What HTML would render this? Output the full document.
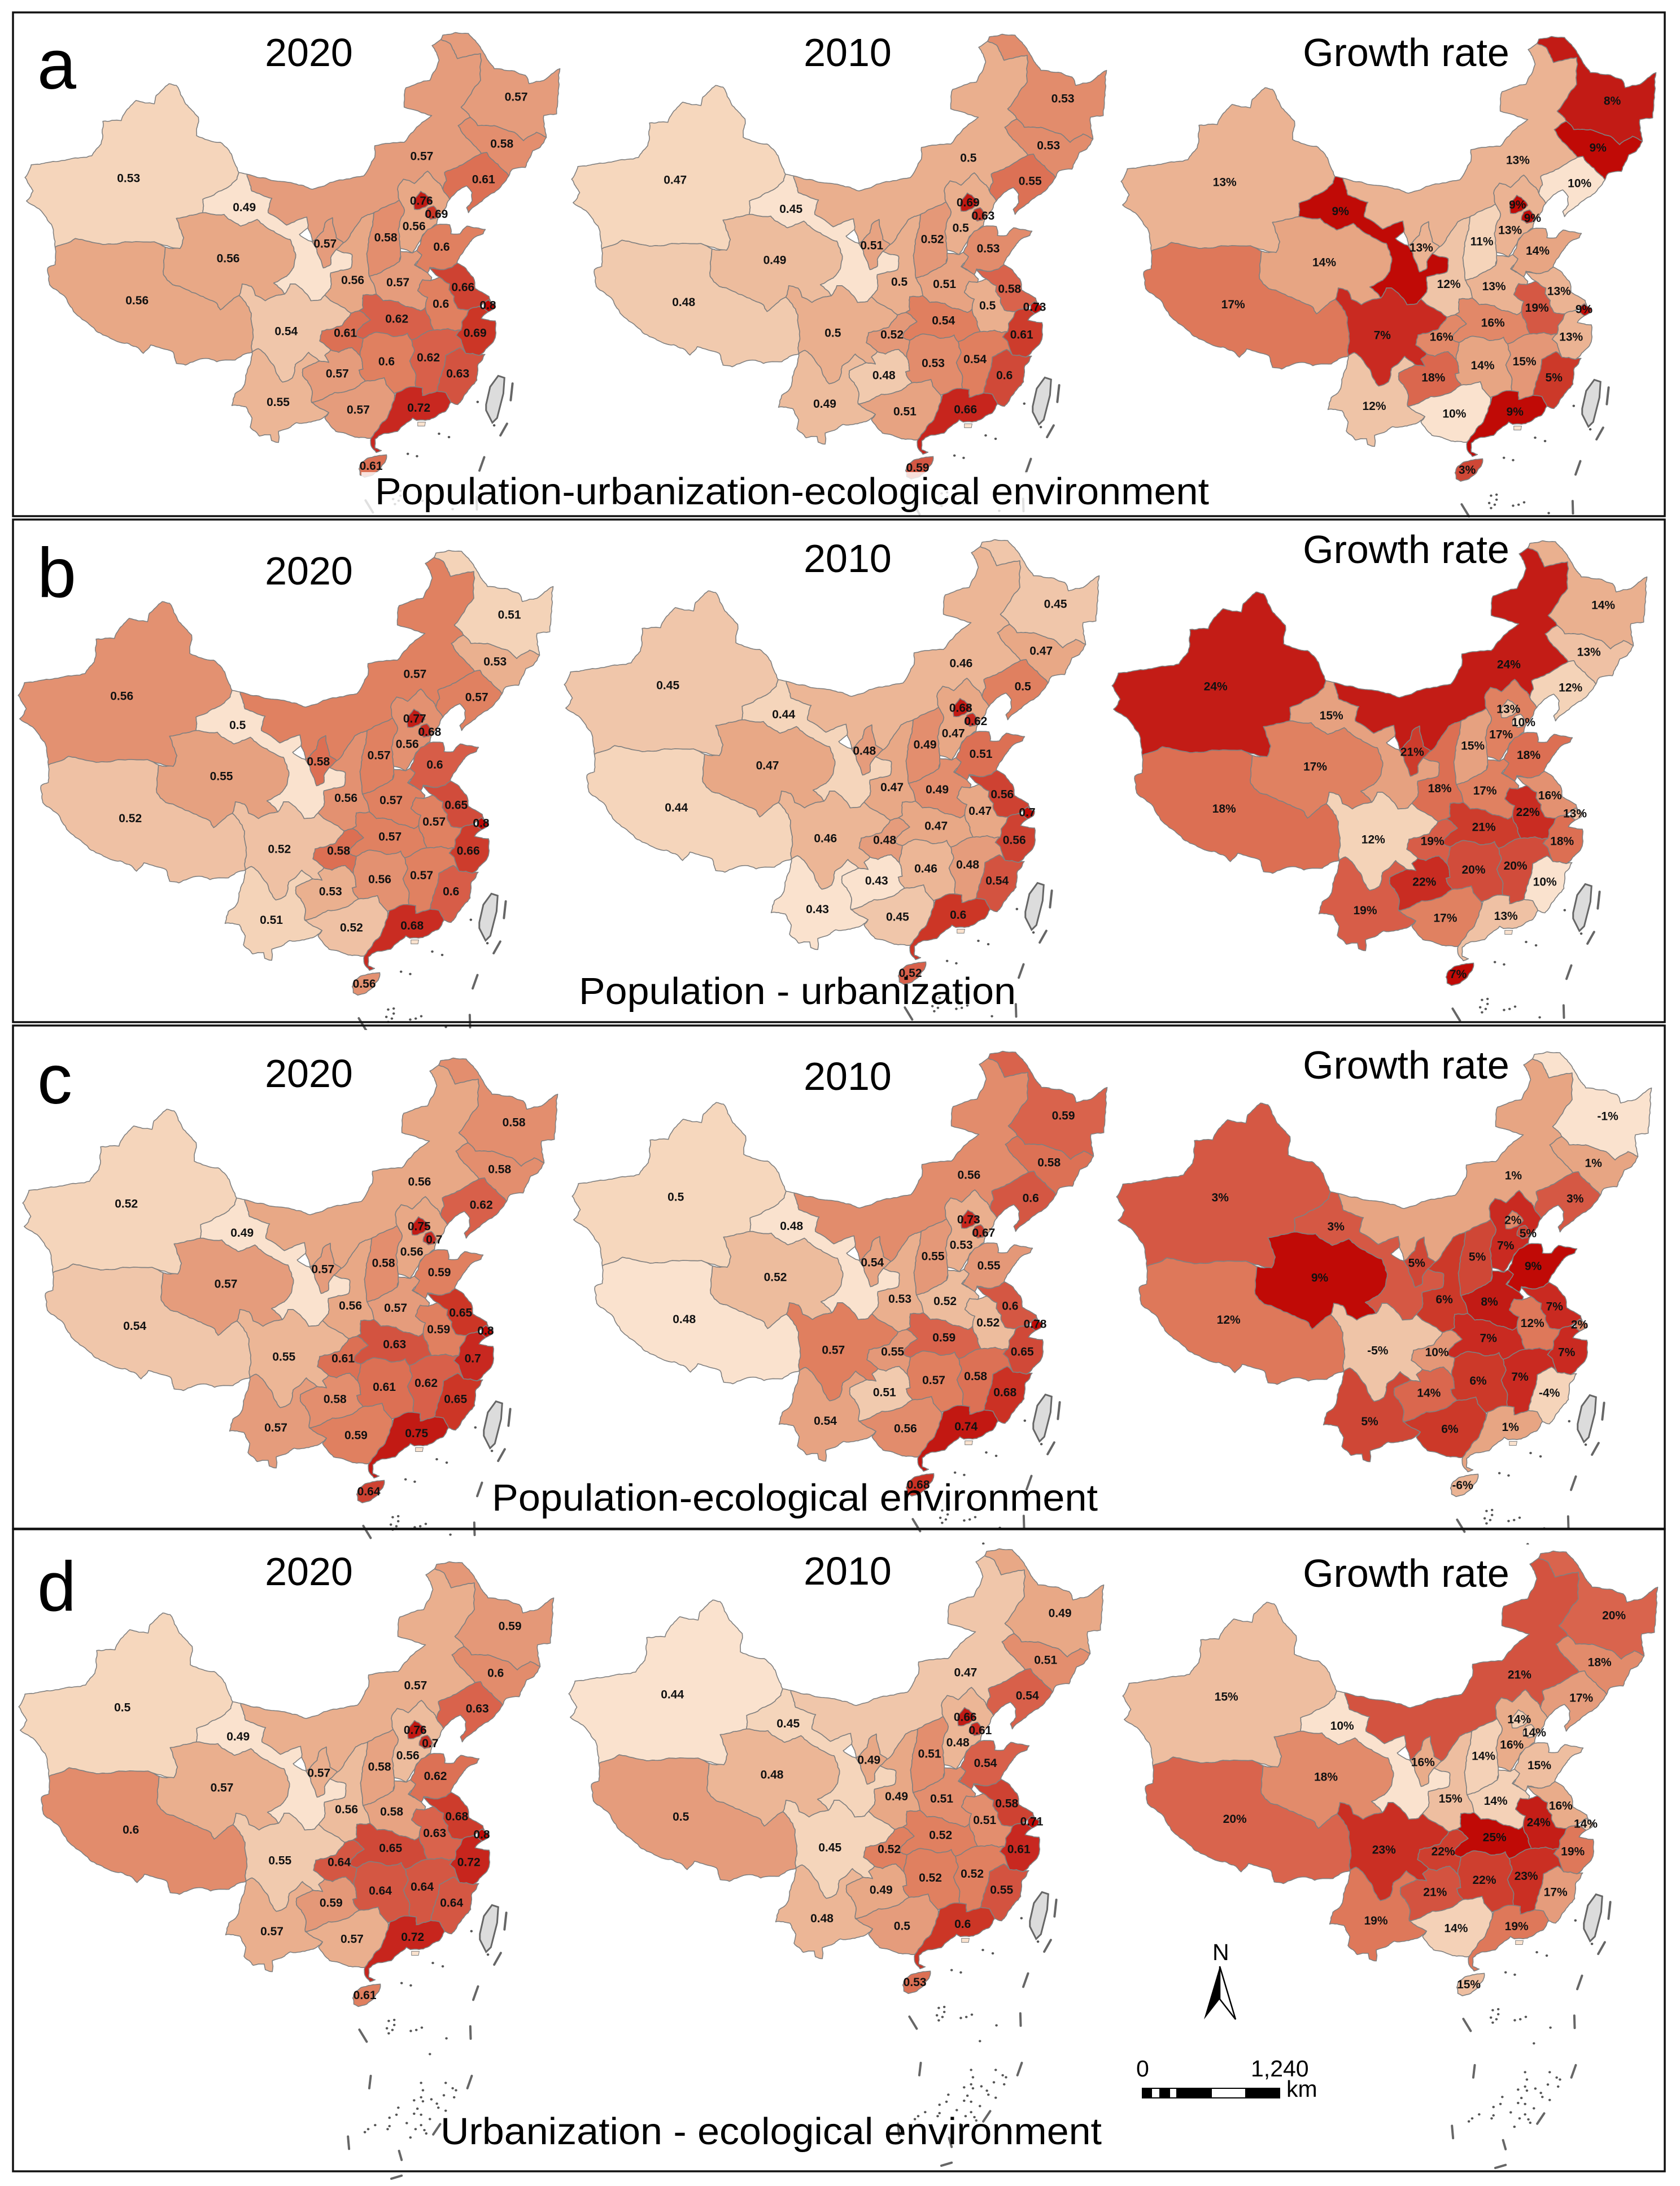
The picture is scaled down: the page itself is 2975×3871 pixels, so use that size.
<!DOCTYPE html>
<html lang="en">
<head>
<meta charset="utf-8">
<title>Coupling coordination maps of China, 2020 and 2010</title>
<style>
html,body{margin:0;padding:0;background:#fff}
svg{display:block}
text{font-family:"Liberation Sans",Arial,sans-serif;fill:#000}
.val{font-weight:700;font-size:21px;fill:#111;text-anchor:middle;dominant-baseline:central}
.head{font-size:70px;text-anchor:middle}
.cap{font-size:67px}
.letter{font-size:124px}
.sc{font-size:41px}
</style>
</head>
<body>
<svg xmlns="http://www.w3.org/2000/svg" id="chart" width="2975" height="3871" viewBox="0 0 2975 3871">
<rect width="2975" height="3871" fill="#fff"/>
<g id="maps"></g>
<rect x="640" y="836" width="1510" height="76" fill="#fff" opacity="0.8"/>
<g fill="none" stroke="#111" stroke-width="3.5">
<rect x="23" y="22" width="2925" height="892"/>
<rect x="23" y="920" width="2925" height="890"/>
<rect x="23" y="1816" width="2925" height="891"/>
<rect x="23" y="2708" width="2925" height="1137"/>
</g>
<text class="letter" x="66" y="157">a</text>
<text class="letter" x="66" y="1057">b</text>
<text class="letter" x="66" y="1954">c</text>
<text class="letter" x="66" y="2852">d</text>
<text class="head" x="547" y="117">2020</text>
<text class="head" x="1501" y="117">2010</text>
<text class="head" x="2490" y="117">Growth rate</text>
<text class="head" x="547" y="1035">2020</text>
<text class="head" x="1501" y="1013">2010</text>
<text class="head" x="2490" y="997">Growth rate</text>
<text class="head" x="547" y="1925">2020</text>
<text class="head" x="1501" y="1930">2010</text>
<text class="head" x="2490" y="1910">Growth rate</text>
<text class="head" x="547" y="2807">2020</text>
<text class="head" x="1501" y="2806">2010</text>
<text class="head" x="2490" y="2810">Growth rate</text>
<text class="cap" x="664" y="893" textLength="1477" lengthAdjust="spacingAndGlyphs">Population-urbanization-ecological environment</text>
<text class="cap" x="1025" y="1778" textLength="774" lengthAdjust="spacingAndGlyphs">Population - urbanization</text>
<text class="cap" x="871" y="2675" textLength="1073" lengthAdjust="spacingAndGlyphs">Population-ecological environment</text>
<text class="cap" x="780" y="3797" textLength="1171" lengthAdjust="spacingAndGlyphs">Urbanization - ecological environment</text>
<g>
<text class="sc" x="2147" y="3471">N</text>
<polygon points="2160,3482 2132,3576 2160,3540" fill="#000"/>
<polygon points="2160,3482 2188,3576 2160,3540" fill="#fff" stroke="#000" stroke-width="2.5"/>
</g>
<g>
<text class="sc" x="2012" y="3677">0</text>
<text class="sc" x="2215" y="3677">1,240</text>
<text class="sc" x="2278" y="3713">km</text>
<rect x="2022" y="3697" width="245" height="19" fill="#000"/>
<rect x="2040" y="3699" width="13" height="15" fill="#fff"/>
<rect x="2072" y="3699" width="11" height="15" fill="#fff"/>
<rect x="2146" y="3699" width="59" height="15" fill="#fff"/>
</g>
</svg>
<script>
// Province order shared by every value array below
const provinceCodes = ["XJ","XZ","QH","GS","NM","NX","SN","SX","HE","BJ","TJ","SD","HA","JS","SH","AH","ZJ","JX","FJ","HB","CQ","SC","YN","GZ","HN","GX","GD","HI","HL","JL","LN"];
// Panel a: population-urbanization-ecological environment
const panelA2020 = [0.53,0.56,0.56,0.49,0.57,0.57,0.56,0.58,0.56,0.76,0.69,0.6,0.57,0.66,0.8,0.6,0.69,0.62,0.63,0.62,0.61,0.54,0.55,0.57,0.6,0.57,0.72,0.61,0.57,0.58,0.61];
const panelA2010 = [0.47,0.48,0.49,0.45,0.5,0.51,0.5,0.52,0.5,0.69,0.63,0.53,0.51,0.58,0.73,0.5,0.61,0.54,0.6,0.54,0.52,0.5,0.49,0.48,0.53,0.51,0.66,0.59,0.53,0.53,0.55];
const panelAGrowth = [13,17,14,9,13,13,12,11,13,9,9,14,13,13,9,19,13,15,5,16,16,7,12,18,14,10,9,3,8,9,10];
// Panel b: population - urbanization
const panelB2020 = [0.56,0.52,0.55,0.5,0.57,0.58,0.56,0.57,0.56,0.77,0.68,0.6,0.57,0.65,0.8,0.57,0.66,0.57,0.6,0.57,0.58,0.52,0.51,0.53,0.56,0.52,0.68,0.56,0.51,0.53,0.57];
const panelB2010 = [0.45,0.44,0.47,0.44,0.46,0.48,0.47,0.49,0.47,0.68,0.62,0.51,0.49,0.56,0.7,0.47,0.56,0.48,0.54,0.47,0.48,0.46,0.43,0.43,0.46,0.45,0.6,0.52,0.45,0.47,0.5];
const panelBGrowth = [24,18,17,15,24,21,18,15,17,13,10,18,17,16,13,22,18,20,10,21,19,12,19,22,20,17,13,7,14,13,12];
// Panel c: population-ecological environment
const panelC2020 = [0.52,0.54,0.57,0.49,0.56,0.57,0.56,0.58,0.56,0.75,0.7,0.59,0.57,0.65,0.8,0.59,0.7,0.62,0.65,0.63,0.61,0.55,0.57,0.58,0.61,0.59,0.75,0.64,0.58,0.58,0.62];
const panelC2010 = [0.5,0.48,0.52,0.48,0.56,0.54,0.53,0.55,0.53,0.73,0.67,0.55,0.52,0.6,0.78,0.52,0.65,0.58,0.68,0.59,0.55,0.57,0.54,0.51,0.57,0.56,0.74,0.68,0.59,0.58,0.6];
const panelCGrowth = [3,12,9,3,1,5,6,5,7,2,5,9,8,7,2,12,7,7,-4,7,10,-5,5,14,6,6,1,-6,-1,1,3];
// Panel d: urbanization - ecological environment
const panelD2020 = [0.5,0.6,0.57,0.49,0.57,0.57,0.56,0.58,0.56,0.76,0.7,0.62,0.58,0.68,0.8,0.63,0.72,0.64,0.64,0.65,0.64,0.55,0.57,0.59,0.64,0.57,0.72,0.61,0.59,0.6,0.63];
const panelD2010 = [0.44,0.5,0.48,0.45,0.47,0.49,0.49,0.51,0.48,0.66,0.61,0.54,0.51,0.58,0.71,0.51,0.61,0.52,0.55,0.52,0.52,0.45,0.48,0.49,0.52,0.5,0.6,0.53,0.49,0.51,0.54];
const panelDGrowth = [15,20,18,10,21,16,15,14,16,14,14,15,14,16,14,24,19,23,17,25,22,23,19,21,22,14,19,15,20,18,17];
// Legend order of the growth maps, light to dark, as the source colours them
const growthOrderA = [10,11,12,13,14,15,16,17,18,19,3,5,7,8,9];
const growthOrderB = [10,12,13,14,15,16,17,18,19,20,21,22,24,7];
const growthOrderC = [-1,-4,-5,-6,1,10,2,12,14,3,5,6,7,8,9];

const rampColors = ["#fae2ce","#f5d5bb","#f0c6aa","#ecb696","#e8a886","#e59c7c","#e38e6e","#e08060","#dc7054","#d8604a","#d35340","#ce4232","#cc3626","#c82820","#c21a14","#c00a06"];

// Base geometry of the map outline, in reference-crop units
const provinceShapes = {
XJ:"650,515 630,460 600,425 535,405 540,350 505,310 480,255 460,250 425,285 420,310 370,300 335,345 330,360 280,362 275,430 250,465 190,475 130,485 85,492 68,530 90,570 72,600 100,620 140,670 150,738 205,712 280,730 340,722 420,722 490,742 500,710 480,652 552,635 552,595 610,565 645,535",
XZ:"150,738 205,712 280,730 340,722 420,722 450,738 445,820 470,850 540,880 590,905 600,925 651,882 667,901 684,935 689,1001 686,1052 660,1060 640,1075 590,1080 560,1070 505,1090 480,1085 470,1050 440,1040 410,1030 390,1055 370,1035 320,1020 280,1000 250,975 200,930 180,890 135,850 130,800 150,790",
QH:"480,652 552,635 610,640 640,665 655,675 700,655 745,690 790,715 805,760 800,795 780,825 745,845 775,878 752,882 722,898 695,882 684,855 659,848 651,882 600,925 590,905 540,880 470,850 445,820 450,738 490,742 500,710",
GS:"650,515 672,520 685,570 740,592 730,635 780,672 835,648 838,680 815,700 850,722 870,770 880,800 900,790 900,770 915,745 958,760 955,800 900,815 900,860 884,881 873,895 846,898 821,862 804,848 790,848 775,878 745,845 780,825 800,795 805,760 790,715 745,690 700,655 655,675 640,665 610,640 552,635 552,595 610,565 645,535",
NM:"672,520 730,535 800,548 850,565 915,540 990,525 1020,470 1020,435 1100,425 1140,375 1175,345 1100,320 1105,262 1170,240 1195,180 1176,136 1200,118 1225,130 1245,175 1308,160 1308,240 1255,320 1280,350 1247,375 1265,405 1300,445 1310,458 1250,495 1210,515 1215,540 1205,565 1197,548 1164,511 1128,548 1098,535 1082,565 1087,598 1054,615 1018,635 985,650 960,690 935,725 915,710 905,650 885,665 880,690 850,722 838,680 835,648 780,672 730,635 740,592 685,570",
NX:"850,722 880,690 885,665 905,650 915,710 935,725 915,745 900,770 900,790 880,800 870,770",
SN:"935,725 960,690 985,650 1018,635 1010,688 1002,735 1005,825 1021,861 1024,878 988,881 988,921 977,928 955,935 884,881 900,860 900,815 955,800 958,760 915,745",
SX:"1018,635 1054,615 1087,598 1101,628 1084,685 1090,742 1087,781 1043,808 1005,825 1002,735 1010,688",
HE:"1082,565 1098,535 1128,548 1164,511 1197,548 1205,565 1224,595 1213,621 1191,655 1189,668 1170,685 1150,702 1134,735 1123,755 1090,742 1084,685 1101,628 1087,598",
BJ:"1126,601 1145,571 1167,588 1175,601 1158,618 1142,625 1128,625",
TJ:"1164,621 1180,615 1194,638 1186,652 1172,655 1158,645",
SD:"1164,685 1189,671 1224,671 1227,698 1252,698 1271,675 1321,685 1315,698 1285,715 1263,748 1244,785 1230,798 1208,805 1170,798 1164,815 1131,791 1148,761 1134,748 1148,708",
HA:"1005,825 1043,808 1087,781 1090,751 1123,755 1134,748 1148,761 1128,791 1164,815 1175,828 1172,838 1150,835 1137,868 1164,888 1158,918 1145,928 1104,915 1084,901 1043,898 1024,878 1021,861",
JS:"1170,801 1208,805 1230,798 1244,785 1268,801 1288,828 1293,861 1331,885 1335,898 1318,905 1303,915 1276,925 1246,921 1235,898 1236,885 1222,865 1224,848 1197,828",
SH:"1318,905 1329,895 1348,908 1345,921 1329,931 1315,925",
AH:"1172,838 1197,828 1224,848 1222,865 1236,885 1235,898 1246,921 1276,925 1271,941 1257,961 1255,985 1238,988 1219,981 1180,985 1172,955 1158,918 1164,888 1137,868 1150,835",
ZJ:"1276,925 1303,915 1329,931 1310,951 1348,958 1345,1015 1329,1035 1304,1061 1268,1055 1255,1015 1241,1001 1255,985 1257,961 1271,941",
JX:"1120,1015 1180,985 1219,981 1238,988 1255,985 1241,1001 1255,1015 1268,1055 1252,1038 1213,1061 1202,1115 1189,1168 1150,1181 1150,1158 1131,1155 1131,1115 1115,1078 1128,1048",
FJ:"1268,1055 1304,1061 1320,1058 1301,1088 1298,1135 1268,1175 1246,1208 1227,1201 1213,1172 1189,1168 1202,1115 1213,1061 1252,1038",
HB:"988,881 1024,878 1043,898 1084,901 1104,915 1145,928 1158,918 1172,955 1180,985 1120,1015 1109,995 1071,1005 1024,992 988,1011 969,1002 972,988 1008,955 977,928 988,921",
CQ:"876,988 931,972 955,935 977,928 1008,955 972,988 969,1002 988,1011 986,1025 980,1062 958,1038 922,1052 900,1045 870,1018",
SC:"651,882 659,848 684,855 695,882 722,898 752,882 775,878 790,848 804,848 821,862 846,898 873,895 884,881 955,935 931,972 876,988 870,1018 900,1045 884,1061 895,1082 870,1078 840,1052 804,1088 796,1128 769,1141 747,1095 725,1062 703,1041 686,1052 689,1001 684,935 667,901",
YN:"686,1052 703,1041 725,1062 747,1095 769,1141 796,1128 804,1088 840,1052 870,1078 824,1102 824,1122 846,1155 848,1201 895,1232 879,1248 835,1262 807,1262 791,1275 758,1288 758,1321 739,1315 736,1298 706,1302 681,1275 686,1248 670,1215 631,1211 640,1175 662,1155 681,1088",
GZ:"824,1102 870,1078 895,1082 884,1061 900,1045 922,1052 958,1038 980,1062 988,1102 977,1105 994,1138 972,1155 944,1168 911,1172 884,1188 848,1201 846,1155 824,1122",
HN:"986,1025 988,1011 1024,992 1071,1005 1109,995 1120,1015 1128,1048 1115,1078 1131,1115 1131,1155 1106,1158 1079,1172 1073,1175 1051,1148 1046,1128 994,1138 977,1105 988,1102 980,1062",
GX:"848,1201 884,1188 911,1172 944,1168 972,1155 994,1138 1046,1128 1051,1148 1073,1175 1073,1195 1054,1248 1010,1308 966,1305 914,1288 884,1248 895,1232",
GD:"1079,1172 1106,1158 1150,1158 1150,1181 1189,1168 1213,1172 1227,1201 1213,1228 1180,1248 1134,1255 1123,1248 1082,1288 1043,1295 1021,1311 1021,1338 1038,1345 1024,1351 1010,1331 1010,1308 1054,1248 1073,1195",
HI:"977,1400 985,1380 1000,1368 1052,1358 1048,1380 1035,1400 1015,1418 992,1425 980,1418",
HL:"1200,118 1205,105 1240,97 1275,100 1300,130 1325,175 1345,205 1400,212 1430,225 1440,250 1480,240 1524,205 1520,280 1515,340 1480,345 1487,410 1460,395 1425,420 1400,395 1370,385 1345,375 1300,375 1280,350 1255,320 1308,240 1308,160 1245,175 1225,130",
JL:"1280,350 1300,375 1345,375 1370,385 1400,395 1425,420 1460,395 1487,410 1470,440 1450,450 1430,500 1395,505 1385,525 1355,490 1325,455 1310,458 1300,445 1265,405 1247,375",
LN:"1310,458 1325,455 1355,490 1385,525 1345,575 1300,610 1275,635 1270,620 1285,600 1285,575 1270,555 1245,570 1224,595 1205,565 1215,540 1210,515 1250,495"
};
const labelAnchors = {XJ:[350,533],XZ:[373,898],QH:[621,772],GS:[665,620],NM:[1148,467],NX:[885,728],SN:[960,837],SX:[1050,710],HE:[1127,676],BJ:[1147,600],TJ:[1188,640],SD:[1202,738],HA:[1083,844],JS:[1260,858],SH:[1328,912],AH:[1200,908],ZJ:[1293,995],JX:[1166,1068],FJ:[1246,1116],HB:[1080,953],CQ:[940,995],SC:[779,990],YN:[757,1201],GZ:[918,1116],HN:[1052,1080],GX:[975,1224],GD:[1140,1218],HI:[1010,1392],HL:[1405,290],JL:[1366,430],LN:[1316,536]};
const taiwanShape = "1323,1208 1334,1155 1356,1122 1373,1128 1370,1175 1353,1248 1340,1262 1323,1225";
const macaoShape = "1137,1260 1158,1260 1156,1272 1137,1272";
const islandDashes = ["1395,1145 1390,1195","1380,1265 1362,1300","1318,1365 1305,1405","995,1494 1015,1530","1297,1484 1298,1521","1026,1632 1022,1669","1301,1632 1289,1669","1215,1776 1196,1807","964,1813 967,1850","1103,1856 1110,1883","1082,1939 1110,1930"];
const islandDots = ["1195,1295","1222,1305","1110,1355","1135,1362","1300,1200","1345,1270","1075,1468","1090,1480","1070,1490","1085,1495","1075,1505","1090,1465","1150,1495","1165,1488","1135,1498","1232,1520","1163,1653","1168,1675","1230,1653","1249,1669","1258,1675","1225,1690","1253,1696","1163,1696","1144,1705","1168,1708","1191,1702","1206,1715","1210,1727","1230,1736","1153,1730","1101,1727","1144,1745","1163,1748","1096,1748","1077,1757","1187,1761","1163,1779","1148,1791","1172,1794","1124,1773","1077,1782","1072,1791","1038,1779","1019,1791","1010,1800","1134,1816","1177,1804","1187,1567"];

const SX_SCALE = 1 / 1.537, SY_SCALE = 1 / 1.686;
const NS = "http://www.w3.org/2000/svg";
const layer = document.getElementById("maps");

function hexToRgb(h){return [1,3,5].map(i=>parseInt(h.substr(i,2),16));}
function rampAt(t){
  const p = Math.max(0,Math.min(1,t))*(rampColors.length-1);
  const i = Math.min(Math.floor(p),rampColors.length-2), f = p-i;
  const a = hexToRgb(rampColors[i]), b = hexToRgb(rampColors[i+1]);
  return "rgb("+a.map((v,k)=>Math.round(v+(b[k]-v)*f)).join(",")+")";
}
function colorScale(values, order){
  const levels = order || Array.from(new Set(values)).sort((a,b)=>a-b);
  return function(v){
    let best = 0;
    levels.forEach((l,i)=>{ if(Math.abs(l-v) < Math.abs(levels[best]-v)) best = i; });
    return rampAt(best/Math.max(1,levels.length-1));
  };
}

// Gives province borders a coastline-like roughness. The wobble depends only on
// an edge's two end points, so neighbouring provinces share the same border.
function edgeWobble(a, b, depth){
  if(depth === 0) return [];
  const seed = Math.sin(a[0]*12.9898 + a[1]*78.233 + b[0]*37.719 + b[1]*4.581) * 43758.5453;
  const r = (seed - Math.floor(seed)) - 0.5;
  const dx = b[0]-a[0], dy = b[1]-a[1], len = Math.hypot(dx,dy);
  if(len < 9) return [];
  const amp = Math.min(7, len*0.16) * r;
  const m = [(a[0]+b[0])/2 - dy/len*amp, (a[1]+b[1])/2 + dx/len*amp];
  return edgeWobble(a,m,depth-1).concat([m], edgeWobble(m,b,depth-1));
}
function roughen(shape){
  const pts = shape.trim().split(/\s+/).map(p=>p.split(",").map(Number));
  const out = [];
  pts.forEach(function(a,i){
    const b = pts[(i+1)%pts.length];
    out.push(a);
    const forward = a[0] < b[0] || (a[0] === b[0] && a[1] < b[1]);
    const mid = forward ? edgeWobble(a,b,3) : edgeWobble(b,a,3).reverse();
    mid.forEach(m=>out.push(m));
  });
  return out.map(p=>p[0].toFixed(1)+","+p[1].toFixed(1)).join(" ");
}
const roughShapes = {};
provinceCodes.forEach(function(code){ roughShapes[code] = roughen(provinceShapes[code]); });

function drawMap(id, values, order, suffix, ox, oy, clipBottom){
  const clipId = "clip-"+id;
  const clip = document.createElementNS(NS,"clipPath");
  clip.setAttribute("id",clipId);
  const clipRect = document.createElementNS(NS,"rect");
  clipRect.setAttribute("x",0);
  clipRect.setAttribute("y",0);
  clipRect.setAttribute("width",2975);
  clipRect.setAttribute("height",clipBottom);
  clip.appendChild(clipRect);
  layer.appendChild(clip);

  const outer = document.createElementNS(NS,"g");
  outer.setAttribute("clip-path","url(#"+clipId+")");
  
  
  layer.appendChild(outer);

  const g = document.createElementNS(NS,"g");
  g.setAttribute("transform","translate("+ox+" "+oy+") scale("+SX_SCALE+" "+SY_SCALE+")");
  outer.appendChild(g);

  islandDashes.forEach(function(pts){
    const d = document.createElementNS(NS,"polyline");
    d.setAttribute("points",pts);
    d.setAttribute("fill","none");
    d.setAttribute("stroke","#666");
    d.setAttribute("stroke-width","4");
    d.setAttribute("stroke-linecap","round");
    d.setAttribute("vector-effect","non-scaling-stroke");
    
    
    g.appendChild(d);
  });
  islandDots.forEach(function(pt){
    const c = pt.split(",");
    const dot = document.createElementNS(NS,"circle");
    dot.setAttribute("cx",c[0]);
    dot.setAttribute("cy",c[1]);
    dot.setAttribute("r","3.5");
    dot.setAttribute("fill","#555");
    
    
    g.appendChild(dot);
  });
  const tw = document.createElementNS(NS,"polygon");
  tw.setAttribute("points",taiwanShape);
  tw.setAttribute("fill","#dcdcdc");
  tw.setAttribute("stroke","#666");
  tw.setAttribute("stroke-width","3");
  tw.setAttribute("vector-effect","non-scaling-stroke");
  
  
  g.appendChild(tw);

  const color = colorScale(values, order);
  provinceCodes.forEach(function(code,i){
    const p = document.createElementNS(NS,"polygon");
    p.setAttribute("points",roughShapes[code]);
    p.setAttribute("fill",color(values[i]));
    p.setAttribute("stroke","#808080");
    p.setAttribute("stroke-width","1.6");
    p.setAttribute("stroke-linejoin","round");
    p.setAttribute("vector-effect","non-scaling-stroke");
    
    
    g.appendChild(p);
  });
  const mo = document.createElementNS(NS,"polygon");
  mo.setAttribute("points",macaoShape);
  mo.setAttribute("fill","#fae2ce");
  mo.setAttribute("stroke","#808080");
  mo.setAttribute("vector-effect","non-scaling-stroke");
  
  
  g.appendChild(mo);

  provinceCodes.forEach(function(code,i){
    const a = labelAnchors[code];
    const t = document.createElementNS(NS,"text");
    t.setAttribute("class","val");
    t.setAttribute("x",(ox+a[0]*SX_SCALE).toFixed(1));
    t.setAttribute("y",(oy+a[1]*SY_SCALE).toFixed(1));
    t.textContent = values[i]+suffix;
    
    
    outer.appendChild(t);
  });
}

drawMap("a-2020",panelA2020,null,"",0,0,919);
drawMap("a-2010",panelA2010,null,"",968,3,919);
drawMap("a-growth",panelAGrowth,growthOrderA,"%",1941,7,919);
drawMap("b-2020",panelB2020,null,"",-12,917,1824);
drawMap("b-2010",panelB2010,null,"",955,898,1824);
drawMap("b-growth",panelBGrowth,growthOrderB,"%",1925,900,1824);
drawMap("c-2020",panelC2020,null,"",-4,1816,2735);
drawMap("c-2010",panelC2010,null,"",969,1804,2735);
drawMap("c-growth",panelCGrowth,growthOrderC,"%",1933,1805,2735);
drawMap("d-2020",panelD2020,null,"",-11,2708,3871);
drawMap("d-2010",panelD2010,null,"",963,2685,3871);
drawMap("d-growth",panelDGrowth,null,"%",1944,2689,3871);
</script>
</body>
</html>
